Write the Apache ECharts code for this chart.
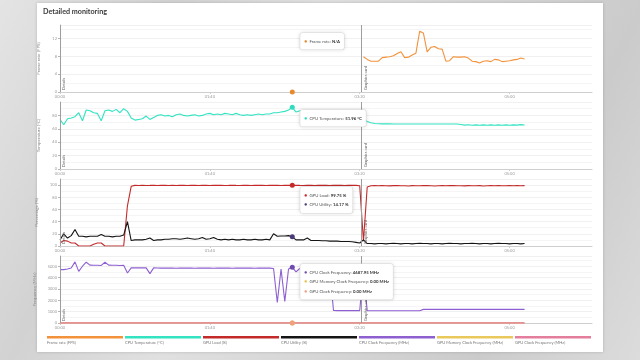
<!DOCTYPE html>
<html><head><meta charset="utf-8">
<script src="https://cdn.jsdelivr.net/npm/echarts@6/dist/echarts.min.js"></script>
<style>
html,body{margin:0;padding:0;width:640px;height:360px;overflow:hidden;}
body{background:linear-gradient(115deg,#e4e4e4 0%,#d2d2d2 22%,#e0e0e0 40%,#d6d6d6 60%,#cbcbcb 80%,#dcdcdc 100%);}
#card{position:absolute;left:37px;top:3px;width:566px;height:349px;background:#fff;box-shadow:0 0 3px rgba(0,0,0,0.18);}
#chart{position:absolute;left:0;top:0;width:640px;height:360px;}
</style></head><body><div id="card"></div><div id="chart"></div>
<script>
// ---------------- data ----------------
const STEP = 2.5; // seconds between samples
const xTickLabels = ['00:00', '01:40', '03:20', '05:00'];
const seriesNames = ['Frame rate (FPS)', 'CPU Temperature (°C)', 'GPU Load (%)', 'CPU Utility (%)',
  'CPU Clock Frequency (MHz)', 'GPU Memory Clock Frequency (MHz)', 'GPU Clock Frequency (MHz)'];
const axisNames = ['Frame rate (FPS)', 'Temperature (°C)', 'Percentage (%)', 'Frequency (MHz)'];
const markers = [{name: 'Details', t: 0}, {name: 'Graphics card', t: 201}];

const fpsStartIndex = 81; // frame rate only recorded during graphics card test
const fpsGraphics = [7.9, 7.3, 6.9, 6.9, 6.9, 7.7, 7.8, 7.9, 8.1, 8.6, 9.0, 7.7, 7.8, 8.3, 8.7, 13.6, 13.2, 9.0, 10.0, 10.2,
  9.7, 9.6, 6.9, 7.0, 7.9, 7.8, 7.8, 7.9, 7.6, 6.9, 6.8, 6.5, 6.9, 7.0, 6.8, 7.3, 7.2, 6.8, 6.9, 7.0,
  7.2, 7.3, 7.6, 7.4];

const cpuTemp = [74, 66, 75, 76, 78, 84, 72, 88, 87, 84, 83, 72, 87, 88, 86, 89, 84, 90, 86, 76,
  73, 74, 75, 79, 74, 77, 80, 81, 79, 80, 78, 81, 82, 80, 79, 80, 81, 79, 80, 82,
  83, 81, 82, 81, 83, 82, 81, 83, 81, 80, 81, 80, 81, 82, 81, 82, 82, 84, 84, 85,
  86, 88, 92, 85, 87, 86, 86, 85, 86, 85, 86, 85, 86, 85, 85, 86, 85, 85, 86, 85,
  84, 74, 71, 69, 68, 67.5, 67.4, 67.3, 67.3, 67.2, 67.2, 67.2, 67.2, 67.2, 67.2, 67.2, 67.2, 67.2, 67.2, 67.2,
  67.2, 67.2, 67.2, 67.2, 67.2, 67.2, 67.2, 66.5, 65.5, 66, 65.3, 65.8, 65.2, 65.9, 65.4, 65.9, 65.3, 65.8, 65.4, 65.9,
  65.3, 65.8, 65.5, 66.2, 65.6];

const gpuLoad = [5, 9, 8, 5, 5, 0, 0, 0, 0, 3, 5, 5, 0, 0, 0, 0, 0, 0, 66, 98,
  99.5, 99.3, 99.6, 99.4, 99.5, 99.7, 99.4, 99.5, 99.6, 99.3,
  99.5, 99.4, 99.6, 99.5, 99.4, 99.6, 99.5, 99.3, 99.5, 99.6,
  99.4, 99.5, 99.6, 99.5, 99.4, 99.5, 99.7, 99.5, 99.4, 99.6,
  99.5, 99.4, 99.5, 99.6, 99.5, 99.4, 99.5, 99.6, 99.5, 99.4,
  99.6, 99.5, 99.6, 99.75, 99.5, 99.4, 99.6, 99.5, 99.4, 99.5,
  99.6, 99.5, 99.4, 99.5, 99.6, 99.5, 99.4, 99.5, 99.6, 99.5,
  99, 8, 97, 98.8, 99.2, 98.9, 99.3, 99.0, 98.7, 99.1, 99.3, 98.9, 99.0, 98.6, 99.2, 99.0, 98.8, 99.3, 99.1, 98.9,
  98.6, 99.0, 99.2, 98.8, 99.1, 99.3, 98.9, 99.0, 98.7, 99.2, 99.0, 98.8, 99.1, 98.5, 99.0, 99.2, 98.9, 99.1, 99.0, 98.8,
  99.1, 99.0, 99.2, 98.9, 99.1];

const cpuUtil = [10, 20, 13, 17, 27, 16, 16, 15, 16, 16, 16, 19, 16, 16, 15, 16, 16, 18, 40, 9,
  10, 10, 10, 11, 13, 9, 10, 10, 11, 11, 12, 12, 11, 12, 13, 12, 11, 12, 14, 11,
  12, 14, 11, 10, 11, 10, 11, 10, 10, 11, 10, 10, 11, 10, 10, 11, 10, 20, 16, 16.5,
  16.5, 17, 15, 10, 10, 10, 13, 9, 9, 9, 8.5, 8.5, 8, 8, 8, 7.5, 7.5, 7.5, 7, 6,
  5, 10, 4, 4, 3.5, 4, 4, 3.5, 4, 4.5, 4, 3.5, 4, 4, 3.5, 4, 4.5, 4, 4, 3.5,
  4, 4, 3.5, 4, 4.5, 4, 4, 3.5, 4, 4, 4.5, 4, 3.5, 4, 4, 3.5, 4, 4.5, 4, 4,
  3.5, 4, 4, 3.5, 4];

const cpuClock = [4700, 4700, 4750, 4850, 5380, 4550, 5000, 5350, 5100, 5080, 5080, 5070, 5350, 5100, 5080, 5080, 5070, 5080, 4400, 4850,
  4850, 4850, 4850, 4850, 4350, 4850, 4840, 4830, 4830, 4840, 4830, 4820, 4830, 4840, 4830, 4830, 4820, 4830, 4840, 4830,
  4830, 4820, 4830, 4830, 4840, 4830, 4820, 4830, 4830, 4840, 4830, 4830, 4820, 4830, 4840, 4830, 4830, 4800, 1800, 4750,
  1900, 4750, 4900, 4500, 4800, 4800, 4800, 4800, 4800, 4800, 4800, 4800, 4800, 1100, 1090, 1090, 1090, 1090, 1090, 1090,
  1090, 4700, 1080, 1080, 1080, 1080, 1080, 1080, 1080, 1080, 1080, 1080, 1080, 1080, 1080, 1080, 1080, 1200, 1200, 1200,
  1200, 1200, 1200, 1200, 1200, 1200, 1200, 1200, 1200, 1200, 1200, 1200, 1200, 1200, 1200, 1200, 1200, 1200, 1200, 1200,
  1200, 1200, 1200, 1200, 1200];

const gpuMemClock = [0,0,0,0,0,0,0,0,0,0,0,0,0,0,0,0,0,0,0,0,0,0,0,0,0,0,0,0,0,0,0,0,0,0,0,0,0,0,0,0,
  0,0,0,0,0,0,0,0,0,0,0,0,0,0,0,0,0,0,0,0,0,0,0,0,0,0,0,0,0,0,0,0,0,0,0,0,0,0,0,0,
  0,0,0,0,0,0,0,0,0,0,0,0,0,0,0,0,0,0,0,0,0,0,0,0,0,0,0,0,0,0,0,0,0,0,0,0,0,0,0,0,0,0,0,0,0];
const gpuClock = [0,0,0,0,0,0,0,0,0,0,0,0,0,0,0,0,0,0,0,0,0,0,0,0,0,0,0,0,0,0,0,0,0,0,0,0,0,0,0,0,
  0,0,0,0,0,0,0,0,0,0,0,0,0,0,0,0,0,0,0,0,0,0,0,0,0,0,0,0,0,0,0,0,0,0,0,0,0,0,0,0,
  0,0,0,0,0,0,0,0,0,0,0,0,0,0,0,0,0,0,0,0,0,0,0,0,0,0,0,0,0,0,0,0,0,0,0,0,0,0,0,0,0,0,0,0,0];

// hovered sample shown in the tooltips
const POINTER_INDEX = 62;
const tipLabels = ['Frame rate', 'CPU Temperature', 'GPU Load', 'CPU Utility',
  'CPU Clock Frequency', 'GPU Memory Clock Frequency', 'GPU Clock Frequency'];
const tipValues = ['N/A', '51.96 °C', '99.75 %', '14.17 %', '4687.95 MHz', '0.00 MHz', '0.00 MHz'];

// ---------------- build ----------------
const fps = new Array(fpsStartIndex).fill(null).concat(fpsGraphics);
const times = cpuTemp.map((_, i) => i * STEP);
const colors = ['#f2923a', '#33e3c2', '#c42a2a', '#151515', '#8d5fd1', '#e9c95c', '#e57d9c'];
const dotColors = ['#e8892c', '#2fdcbc', '#c42a2a', '#4b3a78', '#6f4bb0', '#e6c24a', '#f0a080'];
const seriesData = [fps, cpuTemp, gpuLoad, cpuUtil, cpuClock, gpuMemClock, gpuClock];
const seriesGrid = [0, 1, 2, 2, 3, 3, 3];
const drawOrder = [0, 1, 2, 3, 5, 6, 4];

const GRID_TOPS = [25, 102, 179, 256];
const GRID_H = 67;
const yMax = [15, 100, 110, 5900];
const yInterval = [4, 20, 20, 1000];
const FONT = 'Lato';

const grid = GRID_TOPS.map(top => ({left: 60, right: 48, top: top, height: GRID_H, outerBoundsMode: 'none', containLabel: false}));
const xAxis = GRID_TOPS.map((_, g) => ({
  type: 'value', gridIndex: g, min: 0, max: 355, interval: 100,
  axisLine: {show: true, lineStyle: {color: '#cfcfcf', width: 1}},
  axisTick: {show: true, length: 2, lineStyle: {color: '#cfcfcf'}},
  axisLabel: {fontSize: 4, color: '#9a9a9a', margin: 3, fontFamily: FONT, showMaxLabel: false,
    formatter: v => xTickLabels[Math.round(v / 100)] || ''},
  splitLine: {show: false}
}));
const yAxis = GRID_TOPS.map((_, g) => ({
  type: 'value', gridIndex: g, min: 0, max: yMax[g], interval: yInterval[g],
  name: axisNames[g], nameLocation: 'middle', nameGap: 13,
  nameTextStyle: {fontSize: 4.5, color: '#8a8a8a', fontFamily: FONT},
  axisLine: {show: true, lineStyle: {color: '#b5b5b5', width: 1}},
  axisTick: {show: true, length: 2, lineStyle: {color: '#b5b5b5'}},
  axisLabel: {fontSize: 4, color: '#9a9a9a', margin: 3, fontFamily: FONT, showMaxLabel: false,
    formatter: v => (v % yInterval[g] === 0 ? String(v) : '')},
  splitLine: {show: true, lineStyle: {color: '#ececec', width: 0.8}},
  minorTick: {show: false, splitNumber: 2},
  minorSplitLine: {show: true, lineStyle: {color: '#f2f2f2', width: 0.8}}
}));

const firstInGrid = {};
const series = drawOrder.map(k => {
  const g = seriesGrid[k];
  const s = {
    type: 'line', name: seriesNames[k], xAxisIndex: g, yAxisIndex: g,
    data: seriesData[k].map((v, i) => [times[i], v]),
    showSymbol: false, symbol: 'none', connectNulls: false,
    lineStyle: {color: colors[k], width: k >= 5 ? 1.6 : 1.1},
    itemStyle: {color: colors[k]},
    animation: false,
    markPoint: {
      symbol: 'circle', symbolSize: 5, animation: false, silent: true,
      itemStyle: {color: dotColors[k]}, label: {show: false},
      data: [{coord: [times[POINTER_INDEX], seriesData[k][POINTER_INDEX] == null ? 0 : seriesData[k][POINTER_INDEX]]}]
    }
  };
  if (!firstInGrid[g]) {
    firstInGrid[g] = true;
    s.markLine = {
      symbol: 'none', silent: true, animation: false,
      lineStyle: {color: '#9e9e9e', type: 'solid', width: 1},
      label: {show: true, formatter: '{b}', position: 'insideStartBottom', fontSize: 4, color: '#666', distance: 2, fontFamily: FONT},
      data: markers.map(m => ({name: m.name, xAxis: m.t}))
    };
  }
  return s;
});

const chart = echarts.init(document.getElementById('chart'), null, {renderer: 'canvas'});
chart.setOption({
  animation: false,
  textStyle: {fontFamily: FONT},
  title: {text: 'Detailed monitoring', left: 43, top: 8.5, padding: 0,
    textStyle: {fontSize: 7.2, fontWeight: 'bold', color: '#3a3a3a', fontFamily: FONT}},
  grid, xAxis, yAxis, series
});

// tooltips (one per panel) + legend
const elements = [];
const tipGroups = [[0], [1], [2, 3], [4, 5, 6]];
tipGroups.forEach((items, g) => {
  const px = chart.convertToPixel({gridIndex: g}, [times[POINTER_INDEX], 0])[0];
  const rich = {b: {fontSize: 4.3, fontWeight: 'bold', fill: '#333', fontFamily: FONT}};
  items.forEach(k => { rich['d' + k] = {fontSize: 5, fill: dotColors[k], fontFamily: FONT}; });
  const text = items.map(k => '{d' + k + '|●}  ' + tipLabels[k] + ': {b|' + tipValues[k] + '}').join('\n');
  elements.push({
    type: 'text', x: px + 8, y: GRID_TOPS[g] + 8, z: 200,
    style: {
      text: text, rich: rich, fontSize: 4.3, fill: '#555', fontFamily: FONT, lineHeight: 9.5,
      backgroundColor: '#fff', borderColor: '#e2e2e2', borderWidth: 0.6, borderRadius: 2,
      padding: [3.5, 4, 3.5, 4], shadowBlur: 4, shadowColor: 'rgba(0,0,0,0.12)'
    }
  });
});
seriesNames.forEach((name, k) => {
  elements.push({type: 'rect', shape: {x: 47 + 78 * k, y: 336, width: 76, height: 2.5}, style: {fill: colors[k]}, z: 100});
  elements.push({type: 'text', x: 47 + 78 * k, y: 340.5, z: 100,
    style: {text: name, fontSize: 4, fill: '#777', fontFamily: FONT}});
});
chart.setOption({graphic: {elements: elements}});
</script></body></html>
